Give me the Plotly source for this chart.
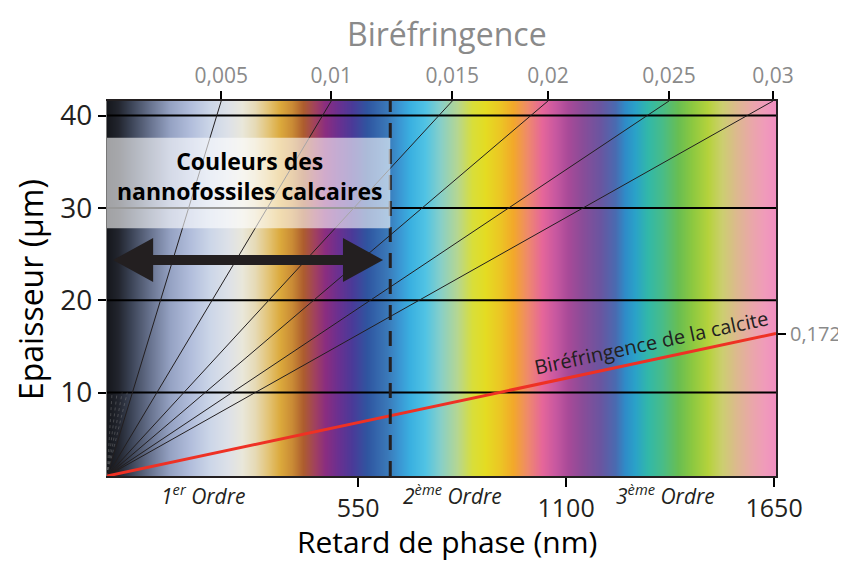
import plotly.graph_objects as go

# ---------------- data ----------------
x_range = [-114, 1655]          # retard de phase (nm) shown
y_range = [0.97, 41.58]         # épaisseur (µm) shown
x_ticks = [550, 1100, 1650]
y_ticks = [10, 20, 30, 40]

# birefringence lines: label and retard where each line reaches the top edge
biref_labels = ["0,005", "0,01", "0,015", "0,02", "0,025", "0,03"]
biref_top_x = [188, 479, 799, 1052, 1372, 1647]
faint_top_x = [-54, 6, 66, 127]   # 0.001 - 0.004 (faint, dotted)
faint_end_y = 10

calcite_label = "0,172"
calcite_end_y = 16.4             # thickness where the calcite line meets the right edge
calcite_text_pos = (1325, 15.4)

order_labels = ["<i>1<sup>er</sup> Ordre</i>", "<i>2<sup>ème</sup> Ordre</i>", "<i>3<sup>ème</sup> Ordre</i>"]
order_x = [140, 799, 1362]

nanno_limit_x = 635              # dashed line / limit of nannofossil colours
nanno_box_y = [27.8, 37.6]
nanno_text_pos = (262, 33.5)
arrow_x = [-98, 616]
arrow_y = 24.36

# Michel-Levy colour stops (retard nm, colour)
stop_x = [-114, -85, -53, 0, 53, 106, 159, 206, 243, 278, 312, 344, 376, 405, 436, 463,
          497, 534, 574, 627, 661, 688, 727, 767, 812, 851, 886, 925, 960, 997, 1037,
          1071, 1105, 1142, 1190, 1230, 1256, 1282, 1317, 1354, 1396, 1433, 1475, 1512,
          1552, 1592, 1626, 1655]
stop_colors = ["#15171c", "#22252e", "#3a4254", "#68738f", "#95a2c3", "#b1bddb", "#ccd6e8",
               "#dde1e8", "#e9e7da", "#e6dab5", "#e3c375", "#dba93c", "#c98a35", "#ad5d2e",
               "#a04060", "#8a2d80", "#6a3090", "#4a3a98", "#2f55a0", "#3a78b8", "#3a98d4",
               "#3ab0e0", "#50c3e4", "#86cfc9", "#b5d692", "#d8de3a", "#e4dc22", "#ecc524",
               "#f2a82a", "#ef8a6a", "#e5669a", "#c858a0", "#a84a98", "#8a4c98", "#6a55a0",
               "#4a6ab0", "#2e8cc8", "#2aa2c8", "#32b8a8", "#48bc88", "#68be52", "#8cc840",
               "#b5d23c", "#ccce70", "#ddb890", "#eaa6aa", "#f09abb", "#f08ec0"]

# ---------------- figure ----------------
INK = "#231f20"
GREY = "#8a8a8a"
FONT = "Open Sans"

fig = go.Figure()

span = x_range[1] - x_range[0]
colorscale = [[(v - x_range[0]) / span, c] for v, c in zip(stop_x, stop_colors)]
fig.add_trace(go.Heatmap(
    x=stop_x, y=y_range, z=[stop_x, stop_x],
    zmin=x_range[0], zmax=x_range[1], colorscale=colorscale,
    zsmooth="best", showscale=False, hoverinfo="skip"))

# horizontal grid lines
for yt in y_ticks:
    fig.add_trace(go.Scatter(x=x_range, y=[yt, yt], mode="lines",
                             line=dict(color="black", width=2), hoverinfo="skip", showlegend=False))

x0, y0 = x_range[0], y_range[0]
# faint lines
for tx in faint_top_x:
    frac = (faint_end_y - y0) / (y_range[1] - y0)
    fig.add_trace(go.Scatter(x=[x0, x0 + (tx - x0) * frac], y=[y0, faint_end_y], mode="lines",
                             line=dict(color="rgba(150,150,150,0.35)", width=1, dash="dot"),
                             hoverinfo="skip", showlegend=False))
# birefringence lines
for tx in biref_top_x:
    fig.add_trace(go.Scatter(x=[x0, tx], y=[y0, y_range[1]], mode="lines",
                             line=dict(color=INK, width=1), hoverinfo="skip", showlegend=False))

# calcite line
fig.add_trace(go.Scatter(x=[x0, x_range[1]], y=[y0, calcite_end_y], mode="lines",
                         line=dict(color="#ee3124", width=3), hoverinfo="skip", showlegend=False))

# dashed limit
fig.add_trace(go.Scatter(x=[nanno_limit_x, nanno_limit_x], y=y_range, mode="lines",
                         line=dict(color=INK, width=3, dash="15px,11px"),
                         hoverinfo="skip", showlegend=False))

# double arrow polygon
head_len = 106
head_half = 2.38
shaft_half = 0.54
ax0, ax1 = arrow_x
poly_x = [ax0, ax0 + head_len, ax0 + head_len, ax1 - head_len, ax1 - head_len, ax1,
          ax1 - head_len, ax1 - head_len, ax0 + head_len, ax0 + head_len, ax0]
poly_y = [arrow_y, arrow_y + head_half, arrow_y + shaft_half, arrow_y + shaft_half,
          arrow_y + head_half, arrow_y, arrow_y - head_half, arrow_y - shaft_half,
          arrow_y - shaft_half, arrow_y - head_half, arrow_y]
fig.add_trace(go.Scatter(x=poly_x, y=poly_y, mode="lines", fill="toself",
                         fillcolor=INK, line=dict(color=INK, width=0),
                         hoverinfo="skip", showlegend=False))

# top / right axis helper trace
fig.add_trace(go.Scatter(x=[x_range[0]], y=[y_range[0]], xaxis="x2", yaxis="y2",
                         mode="markers", marker=dict(opacity=0), hoverinfo="skip", showlegend=False))

# white translucent box
fig.add_shape(type="rect", xref="x", yref="y", x0=x_range[0], x1=nanno_limit_x,
              y0=nanno_box_y[0], y1=nanno_box_y[1], fillcolor="rgba(255,255,255,0.6)",
              line=dict(width=0), layer="above")

def ann(**kw):
    d = dict(showarrow=False, xanchor="center", yanchor="middle")
    d.update(kw)
    return d

annotations = [
    ann(x=nanno_text_pos[0], y=nanno_text_pos[1], xref="x", yref="y",
        text="<b>Couleurs des<br>nannofossiles calcaires</b>",
        font=dict(family=FONT, size=23, color="black")),
    ann(x=calcite_text_pos[0], y=calcite_text_pos[1], xref="x", yref="y",
        text="Biréfringence de la calcite", textangle=-12.1,
        font=dict(family=FONT, size=20, color=INK)),
    ann(x=0.508, y=1.181, xref="paper", yref="paper", text="Biréfringence",
        font=dict(family=FONT, size=32, color=GREY)),
    ann(x=0.508, y=-0.174, xref="paper", yref="paper", text="Retard de phase (nm)",
        font=dict(family=FONT, size=30, color="black")),
    ann(x=-0.115, y=0.496, xref="paper", yref="paper", text="Epaisseur (µm)",
        textangle=-90, font=dict(family=FONT, size=32, color="black")),
]
for lab, ox in zip(order_labels, order_x):
    annotations.append(ann(x=ox, y=-0.05, xref="x", yref="paper", text=lab,
                           font=dict(family=FONT, size=21, color=INK)))

# page body has an 8px margin: size the figure so the plot area lands where the reference has it
fig.update_layout(
    width=838, height=555,
    margin=dict(l=99, r=70, t=93, b=87, autoexpand=False),
    paper_bgcolor="white", plot_bgcolor="white",
    showlegend=False,
    annotations=annotations,
    xaxis=dict(range=x_range, tickvals=x_ticks, ticks="outside", ticklen=9, tickwidth=2,
               tickcolor="black", showgrid=False, zeroline=False, showline=True, automargin=False,
               linecolor=INK, linewidth=2, tickfont=dict(family=FONT, size=25, color=INK)),
    xaxis2=dict(range=x_range, matches="x", overlaying="x", side="top", tickvals=biref_top_x,
                ticktext=biref_labels, ticks="outside", ticklen=8, tickwidth=2, tickcolor="black",
                showgrid=False, zeroline=False, showline=True, linecolor=INK, linewidth=1.5,
                automargin=False, tickfont=dict(family=FONT, size=21, color=GREY)),
    yaxis=dict(range=y_range, tickvals=y_ticks, ticks="outside", ticklen=8, tickwidth=2,
               tickcolor="black", showgrid=False, zeroline=False, showline=True, automargin=False,
               linecolor="#777", linewidth=1, tickfont=dict(family=FONT, size=28, color=INK)),
    yaxis2=dict(range=y_range, matches="y", overlaying="y", side="right",
                tickvals=[calcite_end_y], ticktext=[calcite_label], ticks="outside", ticklen=8,
                tickwidth=2, tickcolor="black", showgrid=False, zeroline=False, showline=True,
                automargin=False, linecolor=INK, linewidth=2,
                tickfont=dict(family=FONT, size=20, color=GREY)),
)

fig.write_html("out.html")
